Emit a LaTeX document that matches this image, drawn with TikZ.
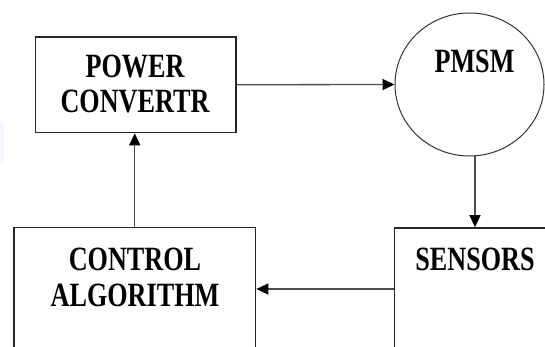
\documentclass[tikz,border=0pt]{standalone}
\usepackage{fontspec}
\newfontfamily\boxfont{Liberation Serif}[FakeStretch=0.77]
\usetikzlibrary{arrows.meta,shapes.geometric}

\begin{document}
\begin{tikzpicture}[x=1pt,y=-1pt,
  blockbox/.style={draw=black!85,line width=1.6pt,rectangle,inner sep=0pt},
  motorshape/.style={draw=black!80,line width=1pt,ellipse,inner sep=0pt},
  lbl/.style={font=\boxfont\bfseries\fontsize{34}{36}\selectfont,anchor=base,inner sep=0pt,text=black},
  flow/.style={draw=black!70,line width=1.3pt,-{Triangle[length=12pt,width=11pt,color=black]}}
]
\useasboundingbox (0,0) rectangle (545,347);
\clip (0,0) rectangle (545,347);

% faint mark at the left edge
\fill[blue!3] (0,122) rectangle (4,163);

% blocks
\node[blockbox,minimum width=200.5pt,minimum height=95.5pt] (pc) at (135.75,84.75) {};
\node[motorshape,minimum width=149pt,minimum height=143pt] (pmsm) at (469.5,84.5) {};
\node[blockbox,minimum width=241.5pt,minimum height=150pt] (ctrl) at (134.75,302.5) {};
\node[blockbox,minimum width=161pt,minimum height=150pt] (sens) at (475,303) {};

% labels
\node[lbl] (t1) at (135,78) {POWER};
\node[lbl] (t2) at (135,113) {CONVERTR};
\node[lbl] (t3) at (474.5,73) {PMSM};
\node[lbl] (t4) at (475,270) {SENSORS};
\node[lbl] (t5) at (135,270) {CONTROL};
\node[lbl] (t6) at (135,306) {ALGORITHM};

% connectors
\coordinate (mbot) at ([xshift=5.5pt]pmsm.south);
\coordinate (fb) at (sens.west |- 0,289);
\draw[flow] (pc.east) -- (pmsm.west);
\draw[flow] (mbot) -- (mbot |- sens.north);
\draw[flow] (fb) -- (fb -| ctrl.east);
\draw[flow] (ctrl.north) -- (ctrl.north |- pc.south);
\end{tikzpicture}
\end{document}
